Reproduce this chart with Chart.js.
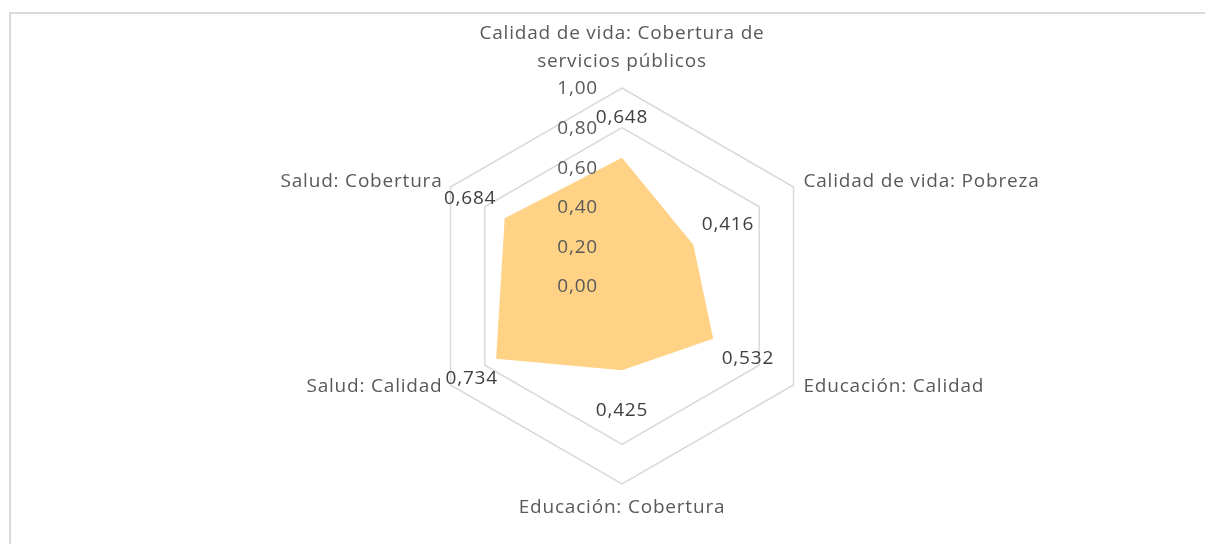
<!DOCTYPE html>
<html>
<head>
<meta charset="utf-8">
<script src="https://cdn.jsdelivr.net/npm/chart.js@4.4.0/dist/chart.umd.min.js"></script>
<style>
  html, body { margin: 0; padding: 0; background: #ffffff; overflow: hidden; }
  canvas { display: block; }
</style>
</head>
<body>
<canvas id="c" width="1205" height="544"></canvas>
<script>
// ---- data ----
const categories = [
  ["Calidad de vida: Cobertura de", "servicios públicos"],
  "Calidad de vida: Pobreza",
  "Educación: Calidad",
  "Educación: Cobertura",
  "Salud: Calidad",
  "Salud: Cobertura"
];
const values = [0.648, 0.416, 0.532, 0.425, 0.734, 0.684];
const tickValues = [0, 0.2, 0.4, 0.6, 0.8, 1.0];
const visibleRings = [0.8, 1.0];

const FONT = '"Open Sans", "Segoe UI", sans-serif';
const fmt = (v, d) => v.toFixed(d).replace('.', ',');

const framePlugin = {
  id: 'frame',
  beforeDraw(chart) {
    const ctx = chart.ctx;
    ctx.save();
    ctx.strokeStyle = '#d9d9d9';
    ctx.lineWidth = 2;
    ctx.beginPath();
    ctx.moveTo(10, chart.height + 5);
    ctx.lineTo(10, 13);
    ctx.lineTo(chart.width + 5, 13);
    ctx.stroke();
    ctx.restore();
  }
};

const labelPlugin = {
  id: 'excelLabels',
  afterDatasetsDraw(chart) {
    const scale = chart.scales.r;
    const ctx = chart.ctx;
    const cx = scale.xCenter, cy = scale.yCenter, R = scale.drawingArea;
    ctx.save();
    try { ctx.letterSpacing = '0.8px'; } catch (e) {}
    ctx.font = '19px ' + FONT;

    // tick labels (left of vertical axis)
    ctx.fillStyle = '#595959';
    ctx.textAlign = 'right';
    ctx.textBaseline = 'middle';
    tickValues.forEach(v => {
      const d = scale.getDistanceFromCenterForValue(v);
      ctx.fillText(fmt(v, 2), cx - 24, cy - d + 1);
    });

    // category labels
    const catBoxes = [];
    chart.data.labels.forEach((lab, i) => {
      const p = scale.getPointPosition(i, R);
      const lines = Array.isArray(lab) ? lab : [lab];
      const dx = p.x - cx;
      const dy = p.y - cy;
      ctx.fillStyle = '#595959';
      ctx.textBaseline = 'middle';
      if (Math.abs(dx) < 1) {
        ctx.textAlign = 'center';
        if (dy < 0) {
          const last = p.y - 26;
          lines.forEach((t, k) => ctx.fillText(t, p.x, last - (lines.length - 1 - k) * 28));
        } else {
          lines.forEach((t, k) => ctx.fillText(t, p.x, p.y + 24 + k * 28));
        }
      } else {
        ctx.textAlign = dx > 0 ? 'left' : 'right';
        const yy = dy < 0 ? p.y - 5 : p.y + 2;
        const xx = dx > 0 ? p.x + 10 : p.x - 8;
        lines.forEach((t, k) => ctx.fillText(t, xx, yy + k * 28));
        catBoxes.push({ side: dx > 0 ? 1 : -1, edge: xx, y: yy });
      }
    });

    // data value labels (avoid overlapping category labels)
    ctx.fillStyle = '#404040';
    ctx.textAlign = 'center';
    ctx.textBaseline = 'middle';
    const ds = chart.data.datasets[0].data;
    ds.forEach((v, i) => {
      const d = scale.getDistanceFromCenterForValue(v);
      const p = scale.getPointPosition(i, d + 40);
      const txt = fmt(v, 3);
      const w = ctx.measureText(txt).width;
      let x = p.x;
      catBoxes.forEach(b => {
        if (Math.abs(b.y - p.y) < 12) {
          if (b.side < 0 && x - w / 2 < b.edge + 3) x = b.edge + 3 + w / 2;
          if (b.side > 0 && x + w / 2 > b.edge - 3) x = b.edge - 3 - w / 2;
        }
      });
      ctx.fillText(txt, x, p.y);
    });
    ctx.restore();
  }
};

new Chart(document.getElementById('c'), {
  type: 'radar',
  data: {
    labels: categories,
    datasets: [{
      data: values,
      backgroundColor: '#FFD285',
      borderWidth: 0,
      borderColor: 'rgba(0,0,0,0)',
      fill: true,
      pointRadius: 0,
      pointHoverRadius: 0
    }]
  },
  options: {
    responsive: false,
    devicePixelRatio: 1,
    animation: false,
    layout: { padding: { top: 88, bottom: 60, left: 424, right: 385 } },
    plugins: { legend: { display: false }, tooltip: { enabled: false } },
    scales: {
      r: {
        min: 0,
        max: 1,
        ticks: { display: false, stepSize: 0.2 },
        pointLabels: { display: false },
        angleLines: { display: false },
        grid: {
          lineWidth: 1.5,
          color: (c) => visibleRings.some(v => Math.abs(v - c.tick.value) < 1e-6) ? '#d9d9d9' : 'rgba(0,0,0,0)'
        }
      }
    }
  },
  plugins: [framePlugin, labelPlugin]
});
</script>
</body>
</html>
